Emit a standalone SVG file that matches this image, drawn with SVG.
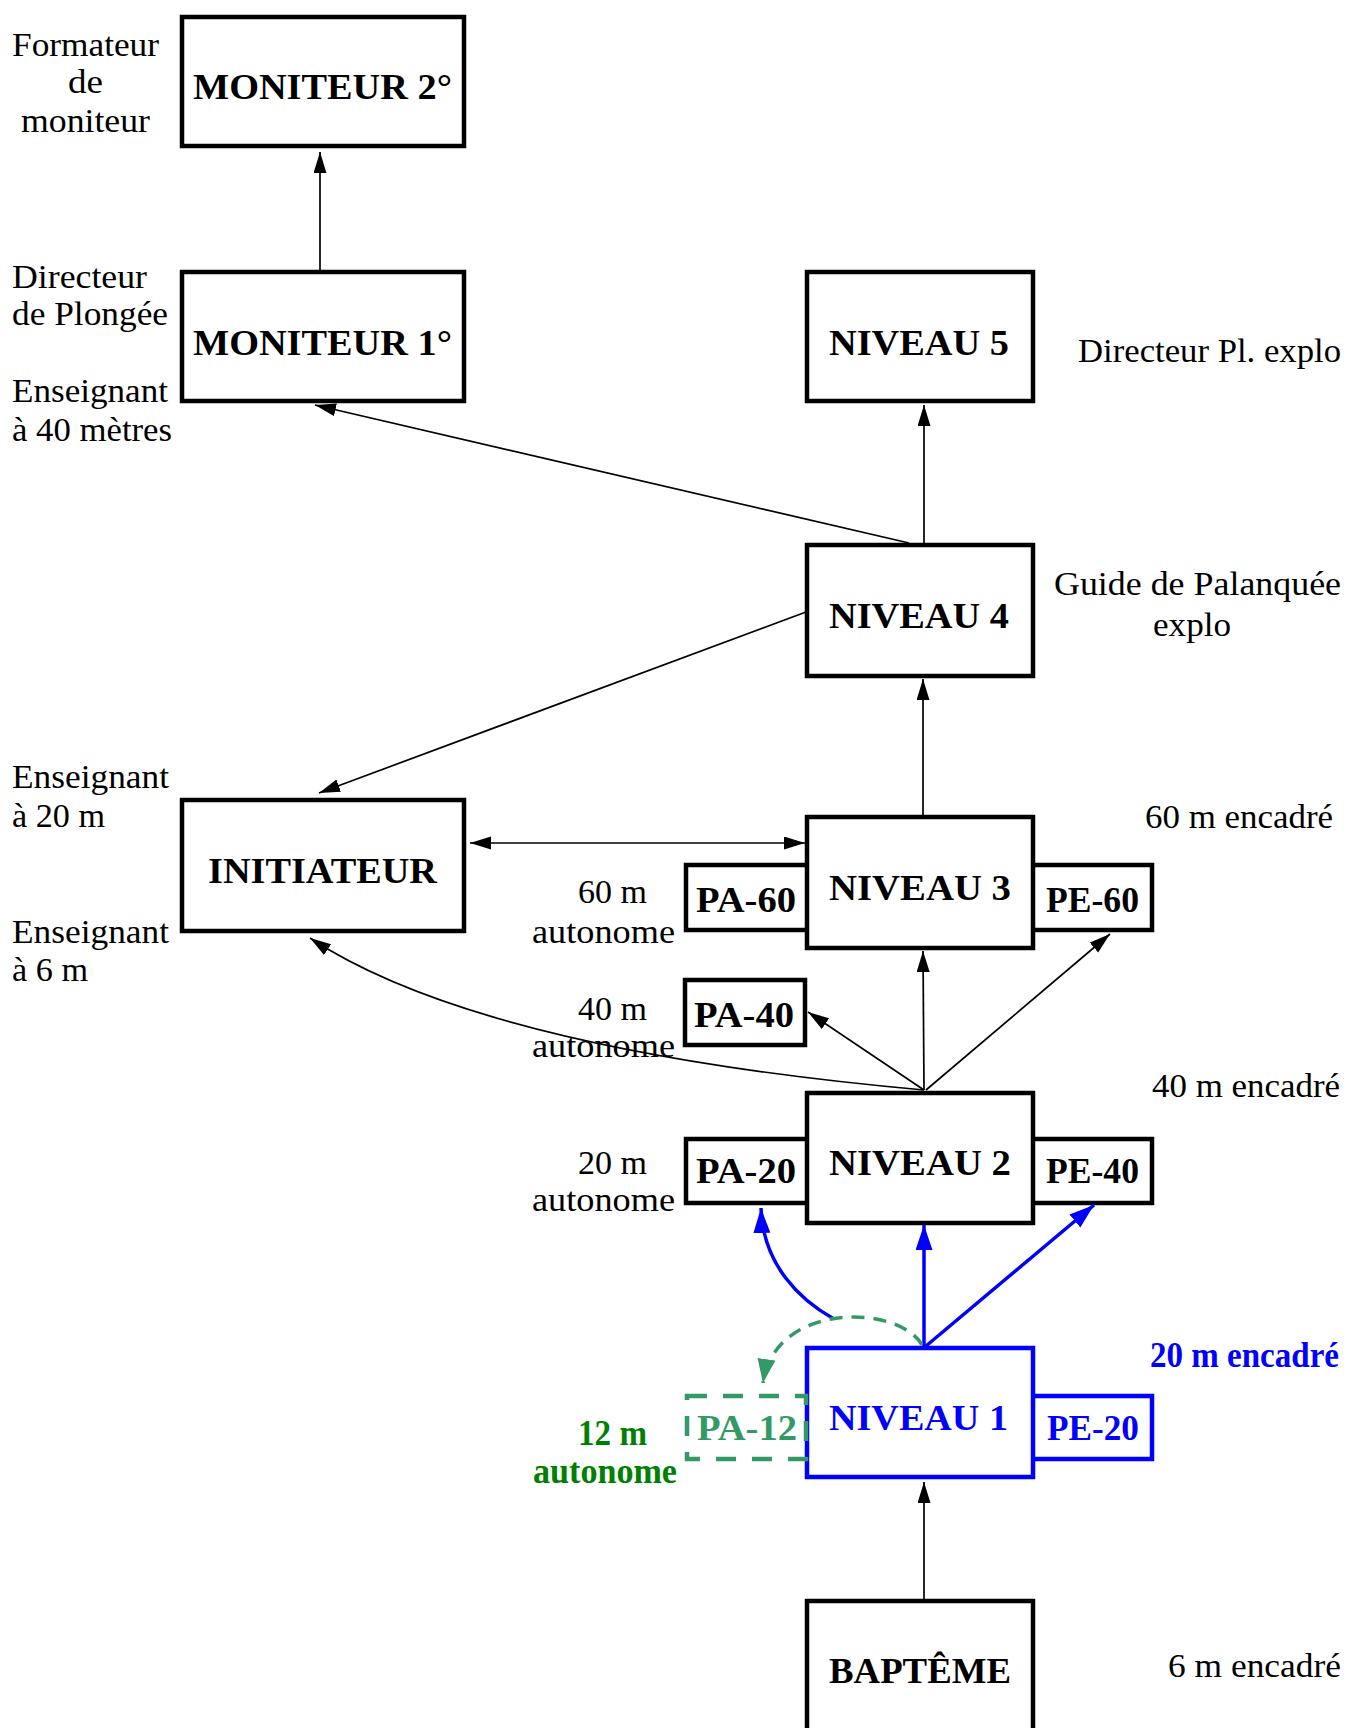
<svg xmlns="http://www.w3.org/2000/svg" width="1348" height="1728" viewBox="0 0 1348 1728">
<style>
  .box { fill: #ffffff; stroke: #000000; stroke-width: 4.5; }
  .blue { fill: #ffffff; stroke: #0000ff; stroke-width: 4.5; }
  .dash { fill: none; stroke: #339966; stroke-width: 4.5; stroke-dasharray: 20 16; }
  .t { font-family: "Liberation Serif", "DejaVu Serif", serif; font-size: 33px; fill: #000000; }
  .b { font-family: "Liberation Serif", "DejaVu Serif", serif; font-size: 35px; font-weight: bold; fill: #000000; }
  .tb { fill: #0000ff; }
  .tg { fill: #008000; }
  .tg2 { fill: #339966; }
  .ln { fill: none; stroke: #000000; stroke-width: 1.7; }
  .lnb { fill: none; stroke: #0000ff; stroke-width: 3.5; }
  .lng { fill: none; stroke: #339966; stroke-width: 3.5; stroke-dasharray: 13 9; }
</style>
<defs>
  <marker id="ah" markerUnits="userSpaceOnUse" markerWidth="22" markerHeight="14" refX="21" refY="6.5" orient="auto-start-reverse">
    <path d="M0,0 L21,6.5 L0,13 z" fill="#000000"/>
  </marker>
  <marker id="ahb" markerUnits="userSpaceOnUse" markerWidth="26" markerHeight="18" refX="25" refY="8.5" orient="auto">
    <path d="M0,0 L25,8.5 L0,17 z" fill="#0000ff"/>
  </marker>
  <marker id="ahg" markerUnits="userSpaceOnUse" markerWidth="25" markerHeight="19" refX="24" refY="9" orient="auto">
    <path d="M0,0 L24,9 L0,18 z" fill="#339966"/>
  </marker>
</defs>
<rect x="0" y="0" width="1348" height="1728" fill="#ffffff"/>

<g id="annotations">
  <text class="t" x="12" y="56" textLength="147" lengthAdjust="spacingAndGlyphs">Formateur</text>
  <text class="t" x="68" y="93" textLength="35" lengthAdjust="spacingAndGlyphs">de</text>
  <text class="t" x="21" y="132" textLength="129" lengthAdjust="spacingAndGlyphs">moniteur</text>
  <text class="t" x="12" y="288" textLength="135" lengthAdjust="spacingAndGlyphs">Directeur</text>
  <text class="t" x="12" y="325" textLength="156" lengthAdjust="spacingAndGlyphs">de Plongée</text>
  <text class="t" x="12" y="402" textLength="156" lengthAdjust="spacingAndGlyphs">Enseignant</text>
  <text class="t" x="12" y="441" textLength="160" lengthAdjust="spacingAndGlyphs">à 40 mètres</text>
  <text class="t" x="12" y="788" textLength="157" lengthAdjust="spacingAndGlyphs">Enseignant</text>
  <text class="t" x="12" y="827" textLength="93" lengthAdjust="spacingAndGlyphs">à 20 m</text>
  <text class="t" x="12" y="943" textLength="157" lengthAdjust="spacingAndGlyphs">Enseignant</text>
  <text class="t" x="12" y="981" textLength="76" lengthAdjust="spacingAndGlyphs">à 6 m</text>
  <text class="t" x="1078" y="362" textLength="263" lengthAdjust="spacingAndGlyphs">Directeur Pl. explo</text>
  <text class="t" x="1054" y="595" textLength="287" lengthAdjust="spacingAndGlyphs">Guide de Palanquée</text>
  <text class="t" x="1153" y="636" textLength="78" lengthAdjust="spacingAndGlyphs">explo</text>
  <text class="t" x="1145" y="828" textLength="188" lengthAdjust="spacingAndGlyphs">60 m encadré</text>
  <text class="t" x="1152" y="1097" textLength="188" lengthAdjust="spacingAndGlyphs">40 m encadré</text>
  <text class="b tb" x="1150" y="1367" textLength="189" lengthAdjust="spacingAndGlyphs">20 m encadré</text>
  <text class="t" x="1168" y="1677" textLength="173" lengthAdjust="spacingAndGlyphs">6 m encadré</text>
  <text class="t" x="578" y="903" textLength="69" lengthAdjust="spacingAndGlyphs">60 m</text>
  <text class="t" x="532" y="943" textLength="143" lengthAdjust="spacingAndGlyphs">autonome</text>
  <text class="t" x="578" y="1020" textLength="69" lengthAdjust="spacingAndGlyphs">40 m</text>
  <text class="t" x="532" y="1057" textLength="143" lengthAdjust="spacingAndGlyphs">autonome</text>
  <text class="t" x="578" y="1174" textLength="69" lengthAdjust="spacingAndGlyphs">20 m</text>
  <text class="t" x="532" y="1211" textLength="143" lengthAdjust="spacingAndGlyphs">autonome</text>
  <text class="b tg" x="578" y="1445" textLength="69" lengthAdjust="spacingAndGlyphs">12 m</text>
  <text class="b tg" x="533" y="1483" textLength="144" lengthAdjust="spacingAndGlyphs">autonome</text>
</g>

<g id="moniteur2">
  <rect class="box" x="182" y="17" width="282" height="129"/>
  <text class="b" x="193" y="99" textLength="259" lengthAdjust="spacingAndGlyphs">MONITEUR 2°</text>
</g>
<g id="moniteur1">
  <rect class="box" x="182" y="272" width="282" height="129"/>
  <text class="b" x="193" y="355" textLength="259" lengthAdjust="spacingAndGlyphs">MONITEUR 1°</text>
</g>
<g id="niveau5">
  <rect class="box" x="807" y="272" width="226" height="129"/>
  <text class="b" x="829" y="355" textLength="180" lengthAdjust="spacingAndGlyphs">NIVEAU 5</text>
</g>
<g id="niveau4">
  <rect class="box" x="807" y="545" width="226" height="131"/>
  <text class="b" x="829" y="628" textLength="180" lengthAdjust="spacingAndGlyphs">NIVEAU 4</text>
</g>
<g id="initiateur">
  <rect class="box" x="182" y="800" width="282" height="131"/>
  <text class="b" x="208" y="883" textLength="229" lengthAdjust="spacingAndGlyphs">INITIATEUR</text>
</g>
<g id="pa60">
  <rect class="box" x="686" y="865" width="122" height="65"/>
  <text class="b" x="696" y="912" textLength="100" lengthAdjust="spacingAndGlyphs">PA-60</text>
</g>
<g id="pe60">
  <rect class="box" x="1032" y="865" width="120" height="65"/>
  <text class="b" x="1046" y="912" textLength="93" lengthAdjust="spacingAndGlyphs">PE-60</text>
</g>
<g id="niveau3">
  <rect class="box" x="807" y="817" width="226" height="131"/>
  <text class="b" x="829" y="900" textLength="182" lengthAdjust="spacingAndGlyphs">NIVEAU 3</text>
</g>
<g id="pa40">
  <rect class="box" x="685" y="980" width="120" height="65"/>
  <text class="b" x="694" y="1027" textLength="100" lengthAdjust="spacingAndGlyphs">PA-40</text>
</g>
<g id="pa20">
  <rect class="box" x="686" y="1139" width="122" height="64"/>
  <text class="b" x="696" y="1183" textLength="100" lengthAdjust="spacingAndGlyphs">PA-20</text>
</g>
<g id="pe40">
  <rect class="box" x="1032" y="1139" width="120" height="64"/>
  <text class="b" x="1046" y="1183" textLength="93" lengthAdjust="spacingAndGlyphs">PE-40</text>
</g>
<g id="niveau2">
  <rect class="box" x="807" y="1093" width="226" height="130"/>
  <text class="b" x="829" y="1175" textLength="182" lengthAdjust="spacingAndGlyphs">NIVEAU 2</text>
</g>
<g id="pe20">
  <rect class="blue" x="1032" y="1396" width="120" height="63"/>
  <text class="b tb" x="1047" y="1440" textLength="92" lengthAdjust="spacingAndGlyphs">PE-20</text>
</g>
<g id="niveau1">
  <rect class="blue" x="807" y="1348" width="226" height="129"/>
  <text class="b tb" x="829" y="1430" textLength="179" lengthAdjust="spacingAndGlyphs">NIVEAU 1</text>
</g>
<g id="pa12">
  <rect class="dash" x="687" y="1396" width="119" height="63"/>
  <text class="b tg2" x="697" y="1440" textLength="100" lengthAdjust="spacingAndGlyphs">PA-12</text>
</g>
<g id="bapteme">
  <rect class="box" x="807" y="1601" width="226" height="200"/>
  <text class="b" x="829" y="1683" textLength="182" lengthAdjust="spacingAndGlyphs">BAPTÊME</text>
</g>

<g id="connectors">
  <path class="ln" d="M320,270 L320,152" marker-end="url(#ah)"/>
  <path class="ln" d="M924,543 L924,405" marker-end="url(#ah)"/>
  <path class="ln" d="M909,543 L315,405" marker-end="url(#ah)"/>
  <path class="ln" d="M806,612 L319,793" marker-end="url(#ah)"/>
  <path class="ln" d="M923,815 L923,679" marker-end="url(#ah)"/>
  <path class="ln" d="M470,843 L805,843" marker-start="url(#ah)" marker-end="url(#ah)"/>
  <path class="ln" d="M924,1090 L923,951" marker-end="url(#ah)"/>
  <path class="ln" d="M924,1090 L808,1012" marker-end="url(#ah)"/>
  <path class="ln" d="M926,1090 L1110,934" marker-end="url(#ah)"/>
  <path class="ln" d="M924,1090 Q480,1050 310,938" marker-end="url(#ah)"/>
  <path class="ln" d="M924,1599 L924,1482" marker-end="url(#ah)"/>
  <path class="lnb" d="M924,1346 L924,1225" marker-end="url(#ahb)"/>
  <path class="lnb" d="M926,1346 L1094,1205" marker-end="url(#ahb)"/>
  <path class="lnb" d="M834,1319 C800,1300 763,1265 761,1208" marker-end="url(#ahb)"/>
  <path class="lng" d="M922,1345 C900,1305 775,1300 763,1383" marker-end="url(#ahg)"/>
</g>
</svg>
